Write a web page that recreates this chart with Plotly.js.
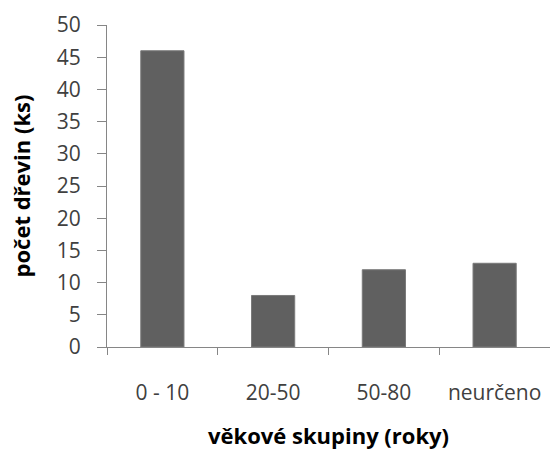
<!DOCTYPE html>
<html>
<head>
<meta charset="utf-8">
<script src="https://cdn.plot.ly/plotly-3.0.1.min.js"></script>
<style>html,body{margin:0;padding:0;background:#fff;}#chart{width:550px;height:452px;}</style>
</head>
<body>
<div id="chart"></div>
<script>
const categories = ["0 - 10", "20-50", "50-80", "neurčeno"];
const values = [46, 8, 12, 13];
const yTicks = [0, 5, 10, 15, 20, 25, 30, 35, 40, 45, 50];
const xTitle = "věkové skupiny (roky)";
const yTitle = "počet dřevin (ks)";

const font = "'Open Sans', 'Noto Sans', sans-serif";
Plotly.newPlot("chart", [{
  type: "bar",
  x: categories,
  y: values,
  marker: {color: "#606060", line: {color: "#7a7a7a", width: 1}},
  hoverinfo: "none"
}], {
  width: 550, height: 452,
  margin: {l: 107, r: 0, t: 25, b: 105},
  paper_bgcolor: "#fff", plot_bgcolor: "#fff",
  bargap: 0.61,
  showlegend: false,
  xaxis: {
    type: "category",
    range: [-0.5, 3.5],
    showline: true, linecolor: "#868686", linewidth: 1,
    ticks: "outside", tickson: "boundaries", ticklen: 7, tickcolor: "#868686",
    ticklabelstandoff: 27,
    showgrid: false, zeroline: false,
    tickfont: {family: font, size: 21, color: "#404040"}
  },
  yaxis: {
    range: [0, 50],
    tickvals: yTicks,
    showline: true, linecolor: "#868686", linewidth: 1,
    ticks: "outside", ticklen: 9, tickcolor: "#868686",
    ticklabelstandoff: 12,
    showgrid: false, zeroline: false,
    tickfont: {family: font, size: 21, color: "#404040"},
    title: {text: yTitle, font: {family: font, size: 22, color: "#000", weight: "bold"}, standoff: 20}
  },
  annotations: [{
    text: xTitle, xref: "paper", yref: "paper", x: 0.5, y: 0, yshift: -105,
    xanchor: "center", yanchor: "bottom", showarrow: false,
    font: {family: font, size: 22, color: "#000", weight: "bold"}
  }]
}, {staticPlot: true});
</script>
</body>
</html>
